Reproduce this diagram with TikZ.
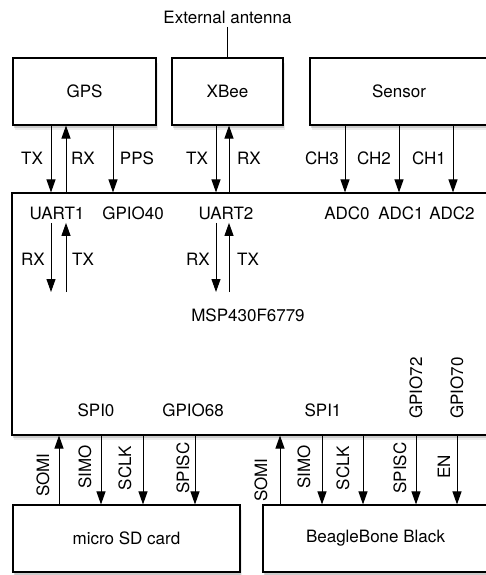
\documentclass[tikz,border=0pt]{standalone}
\usepackage{fontspec}
\setmainfont{TeX Gyre Heros}
\usetikzlibrary{arrows.meta,shadows}

\begin{document}
\begin{tikzpicture}[x=1pt,y=-1pt,
  every node/.style={font=\fontsize{17}{20}\selectfont},
  blk/.style={draw,fill=white,line width=1.1pt,minimum height=67pt,
    drop shadow={shadow xshift=1.5pt,shadow yshift=-5pt,opacity=.15},
    drop shadow={shadow xshift=1pt,shadow yshift=-3pt,opacity=.3}},
  sig/.style={-{Triangle[length=13pt,width=9pt]},line width=1pt},
  vlbl/.style={rotate=90}]
  \useasboundingbox (0,0) rectangle (485,575);
  % blocks
  \node[blk,minimum width=143pt] (gps) at (84.5,91.5) {GPS};
  \node[blk,minimum width=111pt] (xbee) at (227.5,91.5) {XBee};
  \node[blk,minimum width=178pt] (sensor) at (399,91.5) {Sensor};
  \node[blk,minimum width=476pt,minimum height=242pt] (mcu) at (250,314) {};
  \node[blk,minimum width=227pt] (sd) at (126.5,538.5) {micro SD card};
  \node[blk,minimum width=225pt] (bbb) at (375.5,538.5) {BeagleBone Black};
  \node (ant) at (227.5,17) {External antenna};
  \draw[line width=1pt] (ant.south) -- (xbee.north);
  % upper links
  \draw[sig] (gps.south -| 51,0) -- (mcu.north -| 51,0);
  \draw[sig] (mcu.north -| 66,0) -- (gps.south -| 66,0);
  \draw[sig] (gps.south -| 113,0) -- (mcu.north -| 113,0);
  \draw[sig] (xbee.south -| 216,0) -- (mcu.north -| 216,0);
  \draw[sig] (mcu.north -| 229,0) -- (xbee.south -| 229,0);
  \draw[sig] (sensor.south -| 345,0) -- (mcu.north -| 345,0);
  \draw[sig] (sensor.south -| 399,0) -- (mcu.north -| 399,0);
  \draw[sig] (sensor.south -| 453,0) -- (mcu.north -| 453,0);
  \node (gpstx) at (32,158) {TX};
  \node (gpsrx) at (83,158) {RX};
  \node (gpspps) at (137,158) {PPS};
  \node (xbtx) at (197,158) {TX};
  \node (xbrx) at (249,158) {RX};
  \node (ch3) at (322,158) {CH3};
  \node (ch2) at (374,158) {CH2};
  \node (ch1) at (429,158) {CH1};
  % inside the MCU
  \node (uarta) at (57,213) {UART1};
  \node (gpioa) at (133,213) {GPIO40};
  \node (uartb) at (226,213) {UART2};
  \node (adca) at (347,213) {ADC0};
  \node (adcb) at (401,213) {ADC1};
  \node (adcc) at (452,213) {ADC2};
  \coordinate (rxa) at (51,292);
  \coordinate (txa) at (66,292);
  \coordinate (rxb) at (216,292);
  \coordinate (txb) at (229,292);
  \draw[sig] (uarta.south -| rxa) -- (rxa);
  \draw[sig] (txa) -- (uarta.south -| txa);
  \draw[sig] (uartb.south -| rxb) -- (rxb);
  \draw[sig] (txb) -- (uartb.south -| txb);
  \node (rxalbl) at (33,259) {RX};
  \node (txalbl) at (83,259) {TX};
  \node (rxblbl) at (198,259) {RX};
  \node (txblbl) at (248,259) {TX};
  \node (chip) at (248,315) {MSP430F6779};
  \node (spia) at (96,410) {SPI0};
  \node (gpiob) at (193,410) {GPIO68};
  \node (spib) at (323,410) {SPI1};
  \node[vlbl] (gpioc) at (416,388) {GPIO72};
  \node[vlbl] (gpiod) at (457,388) {GPIO70};
  % lower links
  \draw[sig] (sd.north -| 59,0) -- (mcu.south -| 59,0);
  \draw[sig] (mcu.south -| 101,0) -- (sd.north -| 101,0);
  \draw[sig] (mcu.south -| 143,0) -- (sd.north -| 143,0);
  \draw[sig] (mcu.south -| 195,0) -- (sd.north -| 195,0);
  \draw[sig] (bbb.north -| 280,0) -- (mcu.south -| 280,0);
  \draw[sig] (mcu.south -| 322,0) -- (bbb.north -| 322,0);
  \draw[sig] (mcu.south -| 363,0) -- (bbb.north -| 363,0);
  \draw[sig] (mcu.south -| 416,0) -- (bbb.north -| 416,0);
  \draw[sig] (mcu.south -| 457,0) -- (bbb.north -| 457,0);
  \node[vlbl] (sdsomi) at (43,475) {SOMI};
  \node[vlbl] (sdsimo) at (85,467) {SIMO};
  \node[vlbl] (sdsclk) at (125,468) {SCLK};
  \node[vlbl] (sdcs) at (183,468) {SPISC};
  \node[vlbl] (bbsomi) at (261,480) {SOMI};
  \node[vlbl] (bbsimo) at (304,467) {SIMO};
  \node[vlbl] (bbsclk) at (343,468) {SCLK};
  \node[vlbl] (bbcs) at (400,468) {SPISC};
  \node[vlbl] (bben) at (444,467) {EN};
\end{tikzpicture}
\end{document}
